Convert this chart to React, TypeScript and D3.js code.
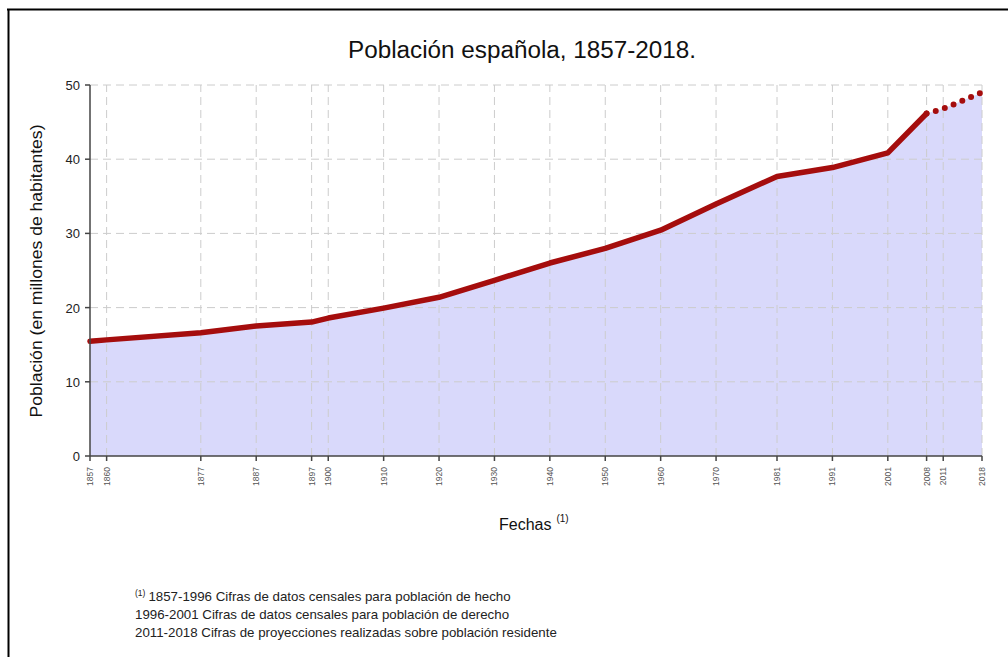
import React from "react";
import * as d3 from "d3";

const years = [1857, 1860, 1877, 1887, 1897, 1900, 1910, 1920, 1930, 1940, 1950, 1960, 1970, 1981, 1991, 2001, 2008];
const population = [15.46, 15.65, 16.62, 17.53, 18.05, 18.59, 19.93, 21.39, 23.68, 26.01, 27.98, 30.43, 33.96, 37.68, 38.87, 40.85, 46.16];
const projYears = [2008, 2011, 2018];
const projPopulation = [46.16, 46.8, 49.0];
const tickYears = [1857, 1860, 1877, 1887, 1897, 1900, 1910, 1920, 1930, 1940, 1950, 1960, 1970, 1981, 1991, 2001, 2008, 2011, 2018];
const yTicks = [0, 10, 20, 30, 40, 50];
const footnotes = [
  "1857-1996 Cifras de datos censales para población de hecho",
  "1996-2001 Cifras de datos censales para población de derecho",
  "2011-2018 Cifras de proyecciones realizadas sobre población residente",
];

const W = 1008, H = 657;
const FONT = "'Liberation Sans', Arial, sans-serif";

export default function App() {
  const x = d3.scaleLinear().domain([1857, 2018]).range([90, 982]);
  const y = d3.scaleLinear().domain([0, 50]).range([456, 85]);
  const main = years.map((yr, i) => [yr, population[i]] as [number, number]);
  const proj = projYears.map((yr, i) => [yr, projPopulation[i]] as [number, number]);
  const all = [...main, ...proj.slice(1)];
  const area = d3.area<[number, number]>().x(d => x(d[0])).y0(y(0)).y1(d => y(d[1]))(all) || "";
  const line = d3.line<[number, number]>().x(d => x(d[0])).y(d => y(d[1]));
  return (
    <svg width={W} height={H} style={{ position: "absolute", left: 0, top: 0, background: "#fff" }}>
      <line x1={7} x2={1008} y1={9.5} y2={9.5} stroke="#000" strokeWidth={2} />
      <line x1={8.5} x2={8.5} y1={9} y2={657} stroke="#000" strokeWidth={2} />
      <text x={522} y={58} textAnchor="middle" fontFamily={FONT} fontSize={23} fill="#111" textLength={348} lengthAdjust="spacingAndGlyphs">Población española, 1857-2018.</text>
      <path d={area} fill="#d9d9fb" />
      {yTicks.filter(t => t > 0).map(t => (
        <line key={"gy" + t} x1={x(1857)} x2={x(2018)} y1={y(t)} y2={y(t)} stroke="#cccccc" strokeDasharray="8,5" />
      ))}
      {tickYears.filter(t => t > 1857).map(t => (
        <line key={"gx" + t} x1={x(t)} x2={x(t)} y1={y(0)} y2={y(50)} stroke="#cccccc" strokeDasharray="8,5" />
      ))}
      <path d={line(main) || ""} fill="none" stroke="#a50d0d" strokeWidth={5.5} strokeLinejoin="round" strokeLinecap="round" />
      <path d={line(proj) || ""} fill="none" stroke="#a50d0d" strokeWidth={6} strokeDasharray="0,9.5" strokeDashoffset={-9.5} strokeLinecap="round" />
      <line x1={x(1857)} x2={x(1857)} y1={y(0)} y2={y(50)} stroke="#444" strokeWidth={1.5} />
      <line x1={x(1857)} x2={x(2018)} y1={y(0)} y2={y(0)} stroke="#444" strokeWidth={1.5} />
      {yTicks.map(t => (
        <g key={"yt" + t}>
          <line x1={x(1857) - 5} x2={x(1857)} y1={y(t)} y2={y(t)} stroke="#444" strokeWidth={1.5} />
          <text x={x(1857) - 10} y={y(t) + 5} textAnchor="end" fontFamily={FONT} fontSize={13} fill="#222">{t}</text>
        </g>
      ))}
      {tickYears.map(t => (
        <g key={"xt" + t}>
          <line x1={x(t)} x2={x(t)} y1={y(0)} y2={y(0) + 5} stroke="#444" strokeWidth={1.5} />
          <text transform={`translate(${x(t) + 3},${y(0) + 11}) rotate(-90)`} textAnchor="end" fontFamily={FONT} fontSize={8.5} fill="#555">{t}</text>
        </g>
      ))}
      <text transform={`translate(42,271) rotate(-90)`} textAnchor="middle" fontFamily={FONT} fontSize={17} fill="#111" textLength={293} lengthAdjust="spacingAndGlyphs">Población (en millones de habitantes)</text>
      <text x={499} y={530} fontFamily={FONT} fontSize={16} fill="#111">Fechas<tspan dx={5} dy={-8} fontSize={10}>(1)</tspan></text>
      <text x={135} y={601} fontFamily={FONT} fontSize={13.3} fill="#222"><tspan fontSize={8.5} dy={-5}>(1)</tspan><tspan dx={3} dy={5}>{footnotes[0]}</tspan></text>
      <text x={135} y={619} fontFamily={FONT} fontSize={13.3} fill="#222">{footnotes[1]}</text>
      <text x={135} y={637} fontFamily={FONT} fontSize={13.3} fill="#222">{footnotes[2]}</text>
    </svg>
  );
}
